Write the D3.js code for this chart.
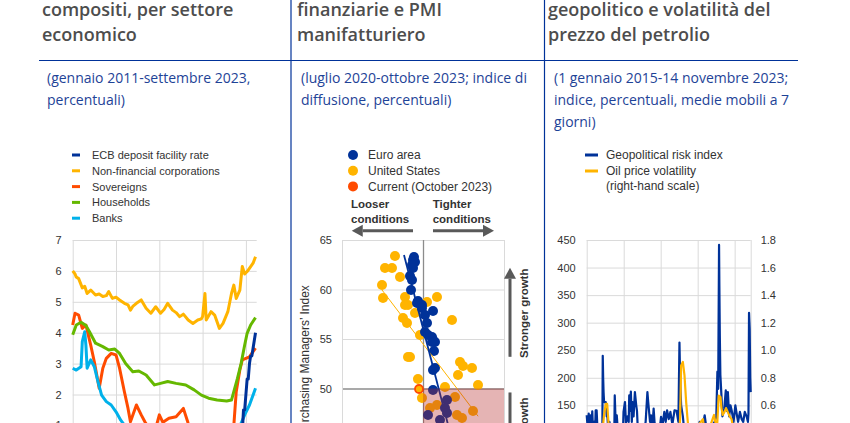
<!DOCTYPE html>
<html>
<head>
<meta charset="utf-8">
<script src="https://cdn.jsdelivr.net/npm/d3@7"></script>
<style>
html, body { margin: 0; padding: 0; background: #fff; overflow: hidden; }
svg { display: block; }
.hdr { font-family: "Open Sans", sans-serif; font-weight: 600; font-size: 18px; fill: #4d4d4d; }
.sub { font-family: "Open Sans", sans-serif; font-size: 14px; fill: #1e4397; }
.ch { font-family: "Liberation Sans", Arial, sans-serif; fill: #333; }
</style>
</head>
<body>
<svg id="chart" width="850" height="423"></svg>
<script>
// ---- texts ----
var headers = [
  ["compositi, per settore", "economico"],
  ["finanziarie e PMI", "manifatturiero"],
  ["geopolitico e volatilità del", "prezzo del petrolio"]
];
var subtitles = [
  ["(gennaio 2011-settembre 2023,", "percentuali)"],
  ["(luglio 2020-ottobre 2023; indice di", "diffusione, percentuali)"],
  ["(1 gennaio 2015-14 novembre 2023;", "indice, percentuali, medie mobili a 7", "giorni)"]
];

// ---- panel 1: yields by sector (monthly) ----
var names1 = ["ECB deposit facility rate", "Non-financial corporations", "Sovereigns", "Households", "Banks"];
var colors1 = ["#003299", "#ffb400", "#ff4b00", "#65b800", "#00b1ea"];
var ticks1 = [-1, 0, 1, 2, 3, 4, 5, 6, 7];
var gridYears1 = ["2011-01", "2014-01", "2017-01", "2020-01", "2023-01"];

var ecbRate = [["2011-01",0.25],["2011-04",0.5],["2011-07",0.75],["2011-11",0.5],["2011-12",0.25],["2012-07",0],
  ["2014-06",-0.1],["2014-09",-0.2],["2015-12",-0.3],["2016-03",-0.4],["2019-09",-0.5],["2022-06",-0.5],["2022-07",0],
  ["2022-08",0],["2022-09",0.75],["2022-10",0.75],["2022-11",1.5],["2022-12",1.5],["2023-01",2.0],["2023-02",2.5],
  ["2023-03",2.5],["2023-04",3.0],["2023-05",3.25],["2023-06",3.25],["2023-07",3.5],["2023-08",3.75],["2023-09",4.0]];
var nfcYield = [["2011-01",6.0],["2011-03",5.9],["2011-04",5.8],["2011-06",5.75],["2011-09",5.45],["2011-11",5.5],["2012-01",5.27],
  ["2012-04",5.38],["2012-06",5.3],["2012-08",5.22],["2012-11",5.25],["2013-02",5.17],["2013-05",5.2],["2013-07",5.33],["2013-10",5.11],
  ["2014-01",5.15],["2014-04",5.06],["2014-08",4.95],["2014-11",4.9],["2015-01",4.73],["2015-03",4.85],["2015-06",4.95],["2015-10",5.06],
  ["2016-02",4.79],["2016-06",4.63],["2016-10",4.84],["2017-02",4.63],["2017-05",4.75],["2017-08",4.95],["2017-12",4.73],
  ["2018-03",4.65],["2018-06",4.52],["2018-09",4.6],["2019-01",4.41],["2019-05",4.3],["2019-09",4.41],["2019-12",4.45],["2020-01",4.52],
  ["2020-03",5.27],["2020-04",4.41],["2020-08",4.68],["2020-11",4.57],["2021-03",4.14],["2021-06",4.3],["2021-10",4.68],
  ["2022-01",5.27],["2022-03",5.54],["2022-05",5.11],["2022-08",5.38],["2022-10",6.14],["2022-12",5.9],["2023-02",5.98],
  ["2023-05",6.14],["2023-07",6.25],["2023-09",6.46]];
var sovYield = [["2011-01",4.25],["2011-03",4.63],["2011-06",4.57],["2011-09",4.14],["2011-12",4.25],["2012-04",3.6],["2012-07",3.06],
  ["2012-11",2.2],["2013-02",2.85],["2013-05",3.17],["2013-09",3.33],["2014-01",3.28],["2014-04",2.85],["2014-08",2.09],["2014-11",1.55],
  ["2015-01",1.12],["2015-06",1.66],["2015-10",1.34],["2016-01",1.12],["2016-06",0.8],["2016-10",0.9],["2017-01",1.34],["2017-04",1.1],
  ["2017-09",1.23],["2018-03",1.28],["2018-09",1.55],["2019-01",1.07],["2019-06",0.6],["2019-09",0.3],["2020-03",0.5],["2020-08",0.3],
  ["2021-01",0.2],["2021-09",0.4],["2022-01",0.7],["2022-03",1.0],["2022-05",2.09],["2022-08",2.8],["2022-10",3.12],["2023-01",3.17],
  ["2023-04",3.22],["2023-07",3.39],["2023-09",3.5]];
var hhYield = [["2011-01",3.93],["2011-04",4.25],["2011-08",4.34],["2011-12",4.23],["2012-03",4.03],["2012-08",3.66],["2013-02",3.55],
  ["2013-07",3.44],["2013-12",3.47],["2014-04",3.33],["2014-09",3.0],["2015-03",2.74],["2015-08",2.76],["2016-02",2.63],["2016-09",2.31],
  ["2017-02",2.36],["2017-08",2.42],["2018-03",2.36],["2018-11",2.31],["2019-06",2.15],["2019-12",1.98],["2020-06",1.88],["2021-01",1.82],
  ["2021-09",1.79],["2022-01",1.82],["2022-03",2.09],["2022-06",2.52],["2022-09",3.0],["2022-12",3.6],["2023-02",3.98],["2023-05",4.25],
  ["2023-09",4.49]];
var bankYield = [["2011-01",2.85],["2011-04",2.79],["2011-08",2.9],["2011-09",3.71],["2011-11",4.03],["2011-12",3.6],["2012-01",2.85],
  ["2012-04",3.12],["2012-07",2.9],["2012-10",2.42],["2013-01",1.98],["2013-05",1.77],["2013-09",1.66],["2014-01",1.44],["2014-05",1.17],
  ["2014-08",1.01],["2015-01",0.7],["2016-01",0.6],["2017-01",0.5],["2018-01",0.6],["2019-01",0.5],["2020-01",0.3],["2021-01",0.2],
  ["2022-01",0.4],["2022-06",0.9],["2022-09",1.07],["2022-12",1.34],["2023-04",1.66],["2023-09",2.2]];

// ---- panel 2: financial conditions vs manufacturing PMI ----
var names2 = ["Euro area", "United States", "Current (October 2023)"];
var colors2 = ["#003299", "#ffb400", "#ff4b00"];
var ticks2 = [40, 45, 50, 55, 60, 65];
var euroArea = [[-0.167,63.28],[-0.185,62.98],[-0.148,62.78],[-0.204,62.47],[-0.185,62.17],[-0.241,61.36],[-0.204,60.96],
  [-0.222,59.95],[-0.093,58.84],[-0.111,58.64],[-0.019,58.43],[-0.019,58.13],[0.185,57.83],[0.037,57.42],[0.074,56.62],
  [0.037,55.71],[0.093,55.40],[0.167,55.20],[0.185,54.90],[0.167,54.70],[0.222,54.70],[0.204,53.79],[0.222,52.07],
  [0.185,51.87],[0.185,49.85],[0.444,48.84],[0.407,48.03],[0.444,47.53],[0.093,47.32],[0.315,46.82]];
var unitedStates = [[-0.519,63.38],[-0.704,62.17],[-0.574,62.17],[-0.426,61.26],[-0.759,60.45],[-0.741,59.14],[-0.333,59.24],
  [0.259,59.24],[-0.333,58.43],[-0.278,58.43],[0.074,58.74],[-0.148,57.63],[-0.370,57.12],[-0.296,56.62],[0.537,56.92],
  [-0.056,55.40],[-0.241,53.18],[-0.278,53.18],[0.685,52.68],[0.741,52.27],[0.907,52.07],[0.648,51.36],[-0.093,50.96],
  [0.407,50.15],[1.019,50.35],[-0.019,49.04],[0.593,49.14],[0.259,48.33],[0.130,48.03],[0.926,47.73],[0.630,47.32],[0.722,47.02]];
var currentPoint = [[-0.074,49.95]];
var euroFit = [[-0.352,63.48],[0.537,44.8]];
var usFit = [[-0.759,59.95],[1.02,47.2]];

// ---- panel 3: geopolitical risk and oil price volatility (7-day MA) ----
var names3 = ["Geopolitical risk index", "Oil price volatility", "(right-hand scale)"];
var colors3 = ["#003299", "#ffb400"];
var ticks3L = [0, 50, 100, 150, 200, 250, 300, 350, 400, 450];
var ticks3R = [0, 0.2, 0.4, 0.6, 0.8, 1.0, 1.2, 1.4, 1.6, 1.8];
var gridYears3 = ["2015-01-01", "2017-01-01", "2019-01-01", "2021-01-01", "2023-01-01", "2023-11-14"];
var gprIndex = [["2015-01-01",132],["2015-01-20",110],["2015-02-10",135],["2015-03-01",105],["2015-03-20",132],["2015-04-05",112],
  ["2015-04-21",139],["2015-05-08",100],["2015-05-26",120],["2015-06-12",98],["2015-06-28",141],["2015-07-16",141],["2015-08-05",100],
  ["2015-09-01",95],["2015-10-01",105],["2015-10-19",110],["2015-11-06",100],["2015-11-14",240],["2015-11-22",200],["2015-11-30",174],
  ["2015-12-10",156],["2016-01-12",156],["2016-02-01",130],["2016-02-13",132],["2016-03-05",100],["2016-03-25",120],["2016-04-19",105],
  ["2016-06-01",95],["2016-07-01",115],["2016-07-08",168],["2016-07-25",120],["2016-08-17",132],["2016-09-10",100],["2016-11-05",105],
  ["2016-12-20",110],["2016-12-28",138],["2017-01-26",156],["2017-02-15",118],["2017-03-18",130],["2017-04-10",120],["2017-04-20",168],
  ["2017-05-05",140],["2017-05-22",175],["2017-06-10",120],["2017-06-24",156],["2017-07-15",130],["2017-08-10",174],["2017-09-05",150],
  ["2017-09-20",140],["2017-10-10",100],["2017-12-05",105],["2018-02-01",100],["2018-03-10",120],["2018-04-14",174],["2018-04-30",156],
  ["2018-06-05",120],["2018-06-24",132],["2018-07-20",110],["2018-08-15",144],["2018-09-01",120],["2018-10-01",100],["2018-12-01",95],
  ["2019-01-08",129],["2019-02-01",110],["2019-03-14",138],["2019-04-10",120],["2019-05-07",141],["2019-06-10",125],["2019-07-12",138],
  ["2019-08-20",115],["2019-10-01",141],["2019-11-10",140],["2019-12-17",120],["2020-01-07",264],["2020-01-20",199],["2020-02-09",150],
  ["2020-03-14",130],["2020-04-15",100],["2020-06-01",95],["2020-09-01",98],["2020-11-01",100],["2021-01-15",105],["2021-02-09",120],
  ["2021-03-20",100],["2021-05-19",132],["2021-06-20",110],["2021-08-20",100],["2021-09-27",112],["2021-12-02",120],["2022-01-04",130],
  ["2022-01-25",211],["2022-02-10",180],["2022-02-27",441],["2022-03-05",368],["2022-03-14",277],["2022-03-25",205],["2022-04-15",168],
  ["2022-05-05",130],["2022-06-10",144],["2022-07-10",177],["2022-08-01",140],["2022-08-20",174],["2022-09-15",130],["2022-10-10",150],
  ["2022-11-05",140],["2022-12-10",120],["2023-01-15",150],["2023-02-15",132],["2023-03-10",120],["2023-04-15",138],["2023-05-20",125],
  ["2023-06-20",120],["2023-07-20",138],["2023-08-25",130],["2023-09-20",120],["2023-10-01",135],["2023-10-12",318],["2023-10-25",289],
  ["2023-11-05",200],["2023-11-14",174]];
var oilVol = [["2015-01-01",0.40],["2015-06-01",0.30],["2015-09-01",0.40],["2015-11-20",0.45],["2015-12-09",0.53],["2016-01-12",0.61],
  ["2016-02-10",0.61],["2016-02-25",0.53],["2016-03-20",0.40],["2016-06-01",0.35],["2017-01-01",0.25],["2018-01-01",0.20],
  ["2018-11-20",0.40],["2019-01-01",0.35],["2019-09-20",0.38],["2019-12-20",0.30],["2020-01-20",0.51],["2020-02-09",0.89],
  ["2020-03-14",0.915],["2020-04-15",0.82],["2020-05-19",0.62],["2020-06-10",0.52],["2020-07-10",0.40],["2020-11-01",0.42],
  ["2021-04-15",0.50],["2021-06-01",0.35],["2021-11-20",0.53],["2021-12-15",0.48],["2022-01-20",0.45],["2022-02-20",0.67],
  ["2022-03-28",0.66],["2022-04-15",0.58],["2022-05-10",0.53],["2022-06-10",0.55],["2022-07-15",0.58],["2022-09-25",0.52],
  ["2022-11-01",0.50],["2022-12-20",0.40],["2023-03-20",0.45],["2023-07-01",0.30],["2023-11-14",0.35]];

var parseM = d3.timeParse("%Y-%m");
var parseD = d3.timeParse("%Y-%m-%d");

var svg = d3.select("#chart");
var ruleBlue = "#003299";
var gridCol = "#dadada";

// table frame
svg.append("line").attr("x1", 39).attr("x2", 798).attr("y1", 60.5).attr("y2", 60.5)
  .attr("stroke", ruleBlue).attr("stroke-width", 1.2);
[291, 544.5].forEach(function(x){
  svg.append("line").attr("x1", x).attr("x2", x).attr("y1", 0).attr("y2", 423)
    .attr("stroke", ruleBlue).attr("stroke-width", 1.2);
});

var hdrX = [42, 297, 548];
var subX = [47, 301, 554];
headers.forEach(function(lines, i){
  lines.forEach(function(t, j){
    svg.append("text").attr("class", "hdr").attr("x", hdrX[i]).attr("y", 15.5 + j * 25).text(t);
  });
});
subtitles.forEach(function(lines, i){
  lines.forEach(function(t, j){
    svg.append("text").attr("class", "sub").attr("x", subX[i]).attr("y", 82.5 + j * 22).text(t);
  });
});

function styleAxis(g, size) {
  g.select(".domain").remove();
  g.selectAll("text").attr("class", "ch").style("font-size", size + "px").attr("fill", "#333");
}

// =============== panel 1 ===============
var x1 = d3.scaleTime().domain([parseM("2011-01"), parseM("2023-10")]).range([72.7, 256.7]);
var y1 = d3.scaleLinear().domain([-1, 7]).range([487.2, 240]);
var p1 = svg.append("g");

p1.append("g").attr("transform", "translate(72.7,0)")
  .call(d3.axisLeft(y1).tickValues(ticks1).tickSize(-184).tickPadding(11).tickFormat(d3.format("d")))
  .call(function(g){ styleAxis(g, 11); g.selectAll("line").attr("stroke", gridCol); });
p1.append("g").attr("transform", "translate(0,487.2)")
  .call(d3.axisBottom(x1).tickValues(gridYears1.map(parseM)).tickSize(-247.2).tickFormat(""))
  .call(function(g){ g.select(".domain").remove(); g.selectAll("line").attr("stroke", gridCol); });

var line1 = d3.line().x(function(d){ return x1(parseM(d[0])); }).y(function(d){ return y1(d[1]); });
var series1 = [ecbRate, nfcYield, sovYield, hhYield, bankYield];
[2, 4, 3, 1, 0].forEach(function(i){
  p1.append("path").datum(series1[i]).attr("d", line1).attr("fill", "none")
    .attr("stroke", colors1[i]).attr("stroke-width", 3).attr("stroke-linejoin", "round");
});

names1.forEach(function(n, i){
  var y = 155 + i * 15.8;
  p1.append("line").attr("x1", 72).attr("x2", 80).attr("y1", y).attr("y2", y)
    .attr("stroke", colors1[i]).attr("stroke-width", 3);
  p1.append("text").attr("class", "ch").style("font-size", "11px").attr("x", 92).attr("y", y + 4).text(n);
});

// =============== panel 2 ===============
var x2 = d3.scaleLinear().domain([-1.5, 1.5]).range([342, 504]);
var y2 = d3.scaleLinear().domain([40, 65]).range([487.5, 240]);
var p2 = svg.append("g");

p2.append("g").attr("transform", "translate(342,0)")
  .call(d3.axisLeft(y2).tickValues(ticks2).tickSize(-162).tickPadding(10).tickFormat(d3.format("d")))
  .call(function(g){
    styleAxis(g, 11);
    g.selectAll("line").attr("stroke", function(d){ return d === 50 ? "#8c8c8c" : gridCol; })
      .attr("stroke-width", function(d){ return d === 50 ? 1.3 : 1; });
  });
p2.append("g").attr("transform", "translate(0,487.5)")
  .call(d3.axisBottom(x2).tickValues([-1.5, 0, 1.5]).tickSize(-247.5).tickFormat(""))
  .call(function(g){
    g.select(".domain").remove();
    g.selectAll("line").attr("stroke", function(d){ return d === 0 ? "#8c8c8c" : gridCol; })
      .attr("stroke-width", function(d){ return d === 0 ? 1.3 : 1; });
  });

function dots(data, color) {
  p2.append("g").selectAll("circle").data(data).enter().append("circle")
    .attr("cx", function(d){ return x2(d[0]); }).attr("cy", function(d){ return y2(d[1]); })
    .attr("r", 5).attr("fill", color);
}
dots(unitedStates, colors2[1]);
dots(euroArea, colors2[0]);

var fitLine = d3.line().x(function(d){ return x2(d[0]); }).y(function(d){ return y2(d[1]); });
p2.append("path").datum(usFit).attr("d", fitLine).attr("stroke", colors2[1]).attr("stroke-width", 1).attr("fill", "none");
p2.append("path").datum(euroFit).attr("d", fitLine).attr("stroke", colors2[0]).attr("stroke-width", 1.8).attr("fill", "none");

p2.selectAll(".cur").data(currentPoint).enter().append("circle").attr("class", "cur")
  .attr("cx", function(d){ return x2(d[0]); }).attr("cy", function(d){ return y2(d[1]); })
  .attr("r", 4).attr("fill", colors2[1]).attr("stroke", colors2[2]).attr("stroke-width", 1.8);

// weaker growth / tighter conditions quadrant
p2.append("rect").attr("x", x2(0)).attr("y", y2(50))
  .attr("width", x2(1.5) - x2(0)).attr("height", y2(40) - y2(50))
  .attr("fill", "rgb(180,40,40)").attr("fill-opacity", 0.35);

// axis title
p2.append("text").attr("class", "ch").style("font-size", "12px")
  .attr("transform", "translate(309,361) rotate(-90)").attr("text-anchor", "middle")
  .text("Purchasing Managers’ Index");

// direction arrows
var arrowCol = "#595959";
function arrow(xa, ya, xb, yb) {
  var dx = xb - xa, dy = yb - ya, len = Math.sqrt(dx * dx + dy * dy);
  var ux = dx / len, uy = dy / len, hl = 11, hw = 6;
  var bx = xb - ux * hl, by = yb - uy * hl;
  p2.append("line").attr("x1", xa).attr("y1", ya).attr("x2", bx).attr("y2", by)
    .attr("stroke", arrowCol).attr("stroke-width", 3);
  p2.append("path").attr("fill", arrowCol)
    .attr("d", "M" + xb + "," + yb + "L" + (bx - uy * hw) + "," + (by + ux * hw) + "L" + (bx + uy * hw) + "," + (by - ux * hw) + "Z");
}
arrow(x2(-0.185), 230.7, x2(-1.32), 230.7);
arrow(x2(0.185), 230.7, x2(1.315), 230.7);
arrow(510, y2(53.2), 510, y2(62.2));
arrow(510, y2(49.6), 510, y2(40.5));

function boldText(x, y, t, anchor, rot) {
  var el = p2.append("text").attr("class", "ch").style("font-size", "11.5px").style("font-weight", "bold")
    .attr("fill", "#262626").text(t);
  if (rot) el.attr("transform", "translate(" + x + "," + y + ") rotate(-90)").attr("text-anchor", anchor);
  else el.attr("x", x).attr("y", y);
}
boldText(351, 208, "Looser");
boldText(351, 222.5, "conditions");
boldText(432.7, 208, "Tighter");
boldText(432.7, 222.5, "conditions");
boldText(528, y2(57.6), "Stronger growth", "middle", true);
boldText(528, y2(49.1), "Weaker growth", "end", true);

names2.forEach(function(n, i){
  var y = 155 + i * 15.7;
  p2.append("circle").attr("cx", 353).attr("cy", y).attr("r", 5).attr("fill", colors2[i]);
  p2.append("text").attr("class", "ch").style("font-size", "12px").attr("x", 368).attr("y", y + 4.3).text(n);
});

// =============== panel 3 ===============
var x3 = d3.scaleTime().domain([parseD("2015-01-01"), parseD("2023-11-14")]).range([586.7, 750.7]);
var y3 = d3.scaleLinear().domain([0, 450]).range([488, 240]);
var y3r = d3.scaleLinear().domain([0, 1.8]).range([488, 240]);
var p3 = svg.append("g");

p3.append("g").attr("transform", "translate(586.7,0)")
  .call(d3.axisLeft(y3).tickValues(ticks3L).tickSize(-164).tickPadding(11).tickFormat(d3.format("d")))
  .call(function(g){ styleAxis(g, 11); g.selectAll("line").attr("stroke", gridCol); });
p3.append("g").attr("transform", "translate(750.7,0)")
  .call(d3.axisRight(y3r).tickValues(ticks3R).tickSize(0).tickPadding(10).tickFormat(d3.format(".1f")))
  .call(function(g){ styleAxis(g, 11); });
p3.append("g").attr("transform", "translate(0,488)")
  .call(d3.axisBottom(x3).tickValues(gridYears3.map(parseD)).tickSize(-248).tickFormat(""))
  .call(function(g){ g.select(".domain").remove(); g.selectAll("line").attr("stroke", gridCol); });

var lineG = d3.line().x(function(d){ return x3(parseD(d[0])); }).y(function(d){ return y3(d[1]); });
var lineO = d3.line().x(function(d){ return x3(parseD(d[0])); }).y(function(d){ return y3r(d[1]); });
p3.append("path").datum(gprIndex).attr("d", lineG).attr("fill", "none")
  .attr("stroke", colors3[0]).attr("stroke-width", 2.2).attr("stroke-linejoin", "round");
p3.append("path").datum(oilVol).attr("d", lineO).attr("fill", "none")
  .attr("stroke", colors3[1]).attr("stroke-width", 2.2).attr("stroke-linejoin", "round");

[0, 1].forEach(function(i){
  var y = 155 + i * 16;
  p3.append("line").attr("x1", 585).attr("x2", 598).attr("y1", y).attr("y2", y)
    .attr("stroke", colors3[i]).attr("stroke-width", 3);
});
names3.forEach(function(n, i){
  p3.append("text").attr("class", "ch").style("font-size", "12px").attr("x", 606).attr("y", 159.3 + i * 15.5).text(n);
});
</script>
</body>
</html>
